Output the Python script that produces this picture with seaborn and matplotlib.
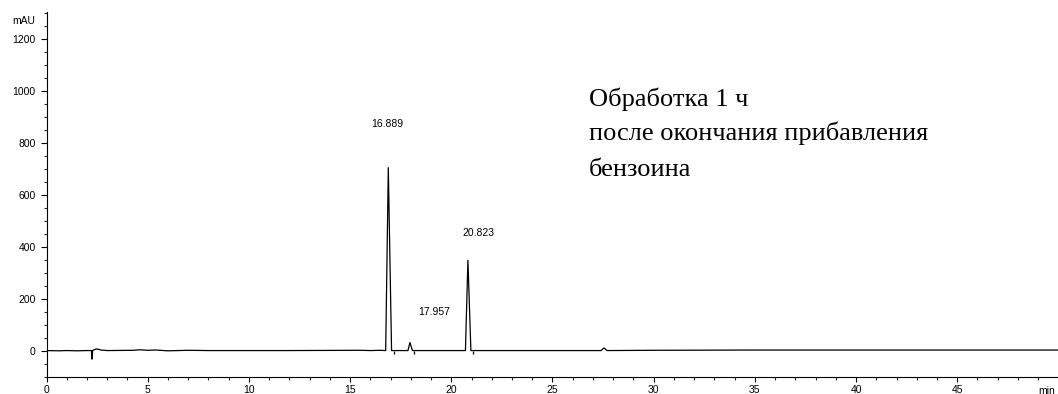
import matplotlib
matplotlib.use("Agg")
import matplotlib.pyplot as plt
import matplotlib.transforms as mtransforms
from matplotlib.ticker import MultipleLocator
import seaborn as sns
import pandas as pd

# ---- data ----
time_min = [0.0, 0.6, 1.0, 1.5, 2.0, 2.22, 2.25, 2.28, 2.4, 2.5, 2.7, 3.0,
            4.3, 4.6, 5.0, 5.4, 6.0, 7.0, 8.0, 12.0, 15.5, 16.0, 16.5,
            16.76, 16.889, 17.05, 17.15, 17.86, 17.957, 18.08, 18.2,
            20.70, 20.823, 20.97, 21.2, 24.5, 27.40, 27.55, 27.70,
            30.0, 35.0, 40.0, 45.0, 50.0]
signal_mau = [0, -1, 0, -1, 0, 0, -33, 0, 5, 6, 2, 0,
              1, 3, 1, 2, -1, 1, 0, 0, 1, 0, 1,
              0, 705, 0, 0, 0, 31, 0, 0,
              0, 348, 0, 0, 0, 0, 10, 0,
              1, 2, 2, 2, 2]

peak_times = ["16.889", "17.957", "20.823"]
peak_label_x = [16.86, 19.13, 21.36]
peak_label_y = [872, 149, 453]

integration_end_times = [17.15, 18.14, 21.06]

note_lines = ["Обработка 1 ч", "после окончания прибавления", "бензоина"]
note_line_y = [942, 811, 673]

x_major_ticks = [0, 5, 10, 15, 20, 25, 30, 35, 40, 45]
y_major_ticks = [0, 200, 400, 600, 800, 1000, 1200]

# ---- figure ----
sns.set_theme(style="ticks")
plt.rcParams["font.family"] = ["Liberation Sans", "DejaVu Sans"]

fig = plt.figure(figsize=(10.58, 3.94), dpi=100)
ax = fig.add_axes([46.5 / 1058, 17.5 / 394, 1 - 46.5 / 1058, (376.5 - 12) / 394])

df = pd.DataFrame({"t": time_min, "s": signal_mau})
sns.lineplot(data=df, x="t", y="s", ax=ax, color="black", linewidth=0.9,
             estimator=None, sort=False)

ax.vlines(integration_end_times, -12, 0, color="black", linewidth=0.9)

ax.set_xlim(0, 49.98)
ax.set_ylim(-100, 1305)
ax.set_xlabel("")
ax.set_ylabel("")

ax.set_xticks(x_major_ticks)
ax.set_xticklabels([str(v) for v in x_major_ticks])
ax.xaxis.set_minor_locator(MultipleLocator(1))
ax.set_yticks(y_major_ticks)
ax.set_yticklabels([str(v) for v in y_major_ticks])
ax.yaxis.set_minor_locator(MultipleLocator(50))

ax.tick_params(axis="both", which="major", labelsize=7.5, colors="black",
               width=0.8, direction="out")
ax.tick_params(axis="x", which="major", length=3.8, pad=2)
ax.tick_params(axis="x", which="minor", length=2.4, width=0.8, direction="out")
ax.tick_params(axis="y", which="major", length=4.3, pad=3.5)
ax.tick_params(axis="y", which="minor", length=2.2, width=0.8, direction="out")

for side in ["top", "right"]:
    ax.spines[side].set_visible(False)
for side in ["left", "bottom"]:
    ax.spines[side].set_color("black")
    ax.spines[side].set_linewidth(0.8)

# axis unit labels
ax.text(-0.55, 1271, "mAU", ha="right", va="center", fontsize=7.5, color="black",
        clip_on=False)
trans = mtransforms.blended_transform_factory(ax.transData, ax.transAxes)
ax.text(49.43, -0.04, "min", ha="center", va="center", fontsize=7.5,
        color="black", transform=trans, clip_on=False)

# peak labels
for lab, lx, ly in zip(peak_times, peak_label_x, peak_label_y):
    ax.text(lx, ly, lab, ha="center", va="center", fontsize=7.5, color="black")

# annotation
for line, ly in zip(note_lines, note_line_y):
    ax.text(26.8, ly, line, ha="left", va="baseline", fontsize=19,
            family=["Liberation Serif", "DejaVu Serif"], color="black")

fig.savefig("out.png", dpi=100)
